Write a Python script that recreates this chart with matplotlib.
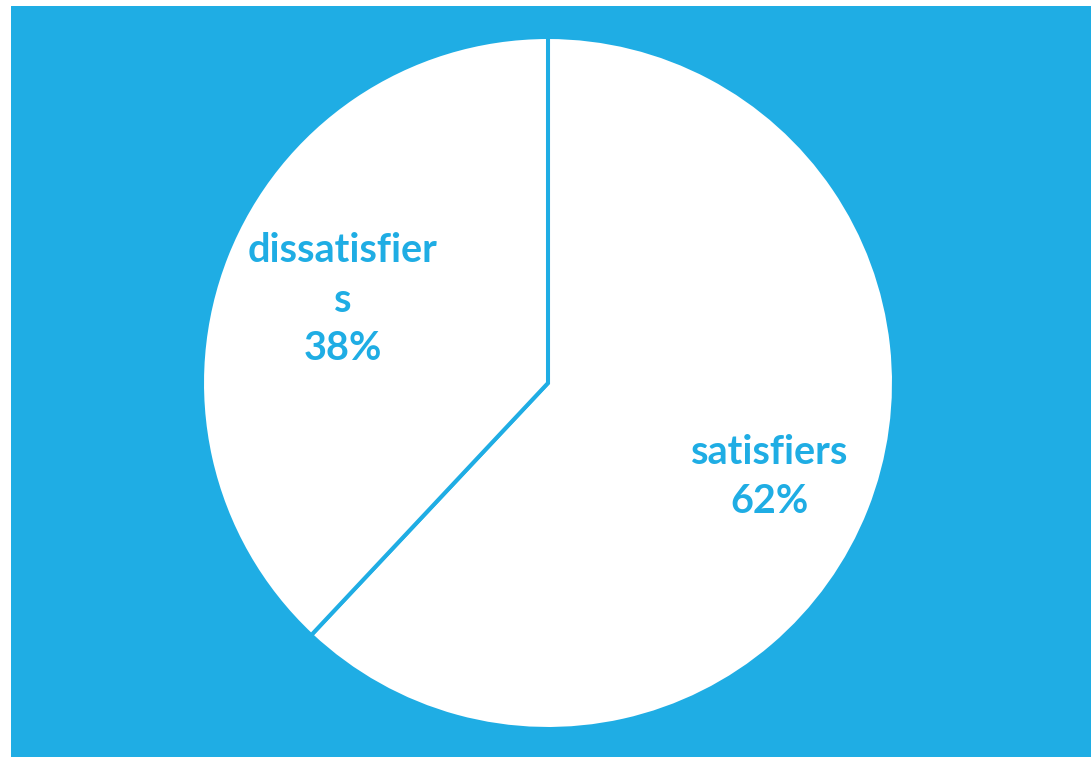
import matplotlib
matplotlib.use("Agg")
import matplotlib.pyplot as plt

labels = ["satisfiers", "dissatisfier\ns"]
values = [62, 38]
pct_labels = ["62%", "38%"]

BLUE = "#1FADE4"
W, H = 1091, 757
fig = plt.figure(figsize=(W / 100, H / 100), dpi=100)
fig.patch.set_facecolor("white")
ax = fig.add_axes([11 / W, 0, (W - 11) / W, (H - 6) / H])
ax.set_facecolor(BLUE)
ax.add_patch(plt.Rectangle((11, 0), W - 11, H - 6, color=BLUE, zorder=0))

cx, cy, r = 548, H - 383, 346
wedges, _ = ax.pie(values, startangle=90, counterclock=False, center=(cx, cy), radius=r,
                   colors=["white", "white"], frame=True,
                   wedgeprops=dict(edgecolor=BLUE, linewidth=2.9))
ax.set_xlim(11, W)
ax.set_ylim(0, H - 6)
ax.axis("off")

font = dict(family=["Lato", "DejaVu Sans"], fontweight="bold", fontsize=28.5, color=BLUE,
            ha="center", va="center", linespacing=1.4)
ax.text(770, H - 477, labels[0] + "\n" + pct_labels[0], **font)
ax.text(343, H - 300, labels[1] + "\n" + pct_labels[1], **font)

fig.savefig("out.png", dpi=100, facecolor="white")
